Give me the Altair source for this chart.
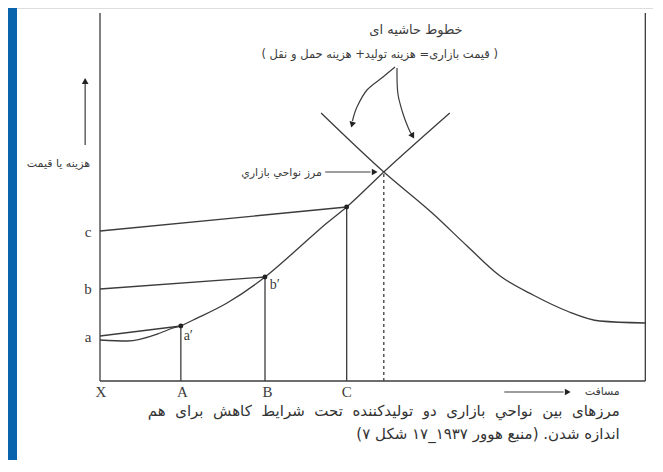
import altair as alt
import pandas as pd

# ---------------- values ----------------
# x: distance units (X=0, A=1, B=2, C=3), y: cost units (x-axis = 0)
a_line_x = [0.0, 0.98]
a_line_y = [1.8, 2.2]
b_line_x = [0.0, 2.0]
b_line_y = [3.68, 4.16]
c_line_x = [0.0, 2.99]
c_line_y = [6.0, 6.96]

low_x = [0.0, 0.33, 0.73, 0.885, 0.98]
low_y = [1.64, 1.6, 1.92, 2.12, 2.2]

rise_x = [0.98, 1.13, 1.54, 2.0, 2.34, 2.75, 2.99, 3.44, 4.24]
rise_y = [2.2, 2.44, 3.12, 4.16, 5.12, 6.32, 6.96, 8.36, 10.72]

fall_x = [2.68, 3.44, 4.04, 4.45, 4.85, 5.25, 5.66, 6.06, 6.61]
fall_y = [10.72, 8.36, 6.68, 5.4, 4.2, 3.44, 2.8, 2.4, 2.32]

drop_x = [0.98, 2.0, 2.99]      # A, B, C verticals
drop_top = [2.2, 4.16, 6.96]
border_x = 3.44
border_y = 8.36
frame_right = 6.61
frame_top = 14.72

pt_labels = ["a", "b", "c"]
pt_label_y = [1.76, 3.68, 5.96]
x_labels = ["X", "A", "B", "C"]
x_label_x = [0.01, 1.0, 2.03, 2.99]
prime_labels = ["a′", "b′"]
prime_x = [1.07, 2.12]
prime_y = [1.8, 3.84]

arrowL_x = [3.576, 3.43, 3.236, 3.115, 3.06]
arrowL_y = [12.56, 12.16, 11.64, 10.96, 10.4]
arrowR_x = [3.6, 3.61, 3.67, 3.74, 3.78]
arrowR_y = [12.52, 11.52, 10.72, 10.1, 9.85]

title1 = "خطوط حاشیه ای"
title2 = "( قیمت بازاری= هزینه تولید+ هزینه حمل و نقل )"
border_label = "مرز نواحي بازاري"
y_title = "هزینه یا قیمت"
x_title = "مسافت"
caption1 = "مرزهای بین نواحي بازاری دو تولیدکننده تحت شرایط کاهش برای هم"
caption2 = "اندازه شدن. (منبع هوور ۱۹۳۷_۱۷ شکل ۷)"

# ---------------- layout ----------------
W, H = 645, 452
XD = [-1.11515, 6.70303]
YD = [-3.16, 14.92]
INK = "#3c3c3c"
BLUE = "#0a64ad"

def rtl(s):
    return "\u202B" + s + "\u202C"

def justify(s):
    # the first caption line is justified in the original: widen the word gaps
    return s.replace(" ", " \u00a0")

xs = alt.Scale(domain=XD, nice=False, zero=False)
ys = alt.Scale(domain=YD, nice=False, zero=False)
X = lambda f="x": alt.X(f, type="quantitative", scale=xs, axis=None)
Y = lambda f="y": alt.Y(f, type="quantitative", scale=ys, axis=None)

layers = []

# blue frame strip at left
layers.append(
    alt.Chart(pd.DataFrame({"x": [XD[0]], "x2": [-1.006], "y": [YD[0]], "y2": [YD[1]]}))
    .mark_rect(color=BLUE)
    .encode(x=X(), x2="x2", y=Y(), y2="y2")
)

# frame lines (axis box)
frame = pd.DataFrame({
    "x": [0.0, frame_right, 0.0],
    "x2": [0.0, frame_right, frame_right],
    "y": [0.0, 0.0, 0.0],
    "y2": [frame_top, frame_top, 0.0],
})
layers.append(alt.Chart(frame).mark_rule(color=INK, strokeWidth=1.3)
              .encode(x=X(), x2="x2", y=Y(), y2="y2"))

def line_layer(xv, yv, interp="linear", width=1.3, dash=None, ordered=False):
    df = pd.DataFrame({"x": xv, "y": yv, "i": list(range(len(xv)))})
    kw = dict(color=INK, strokeWidth=width, interpolate=interp)
    if dash:
        kw["strokeDash"] = dash
    enc = dict(x=X(), y=Y())
    if ordered:
        enc["order"] = alt.Order("i:Q")
    return alt.Chart(df).mark_line(**kw).encode(**enc)

layers.append(line_layer(a_line_x, a_line_y))
layers.append(line_layer(b_line_x, b_line_y))
layers.append(line_layer(c_line_x, c_line_y))
layers.append(line_layer(low_x, low_y, "monotone"))
layers.append(line_layer(rise_x, rise_y, "monotone"))
layers.append(line_layer(fall_x, fall_y, "monotone"))

# vertical drop lines
drops = pd.DataFrame({"x": drop_x, "y": [0.0] * 3, "y2": drop_top})
layers.append(alt.Chart(drops).mark_rule(color=INK, strokeWidth=1.3)
              .encode(x=X(), y=Y(), y2="y2"))
# dashed boundary
layers.append(alt.Chart(pd.DataFrame({"x": [border_x], "y": [0.0], "y2": [border_y]}))
              .mark_rule(color=INK, strokeWidth=1.3, strokeDash=[3, 3])
              .encode(x=X(), y=Y(), y2="y2"))

# dots
dots = pd.DataFrame({"x": drop_x, "y": drop_top})
layers.append(alt.Chart(dots).mark_circle(color="#222", size=24, opacity=1)
              .encode(x=X(), y=Y()))

# curved arrows
layers.append(line_layer(arrowL_x, arrowL_y, "cardinal", 1.2, ordered=True))
layers.append(line_layer(arrowR_x, arrowR_y, "cardinal", 1.2, ordered=True))

# arrow shafts (y-axis arrow, x-axis arrow, border arrow)
shafts = pd.DataFrame({
    "x": [-0.18, 4.9, 2.73],
    "x2": [-0.18, 5.62, 3.28],
    "y": [9.44, -0.44, 8.36],
    "y2": [11.9, -0.44, 8.36],
})
layers.append(alt.Chart(shafts).mark_rule(color=INK, strokeWidth=1.2)
              .encode(x=X(), x2="x2", y=Y(), y2="y2"))

# arrow heads
heads = pd.DataFrame({
    "x": [-0.18, 5.67, 3.33, 3.055, 3.79],
    "y": [12.0, -0.44, 8.36, 10.25, 9.8],
    "ang": [0, 90, 90, 195, 150],
})
layers.append(alt.Chart(heads).mark_point(shape="triangle-up", filled=True, color="#222",
                                          size=45, opacity=1)
              .encode(x=X(), y=Y(), angle=alt.Angle("ang:Q", scale=None)))

def text_layer(xv, yv, texts, size, font, align="center", color=INK):
    df = pd.DataFrame({"x": xv, "y": yv, "t": texts})
    return alt.Chart(df).mark_text(align=align, baseline="middle", font=font,
                                   fontSize=size, color=color).encode(x=X(), y=Y(), text="t:N")

SERIF = "Liberation Serif"
FA = "DejaVu Sans"
# latin labels
layers.append(text_layer([-0.145, -0.145, -0.145], pt_label_y, pt_labels, 15, SERIF))
layers.append(text_layer(x_label_x, [-0.44] * 4, x_labels, 15, SERIF))
layers.append(text_layer(prime_x, prime_y, prime_labels, 14, SERIF))

# persian texts
layers.append(text_layer([3.83], [14.04], [rtl(title1)], 13, FA))
layers.append(text_layer([3.39], [13.04], [rtl(title2)], 11.5, FA))
layers.append(text_layer([2.69], [8.32], [rtl(border_label)], 11, FA, "right"))
layers.append(text_layer([-0.121], [8.68], [rtl(y_title)], 11, FA, "right"))
layers.append(text_layer([6.30], [-0.44], [rtl(x_title)], 11, FA, "right"))
layers.append(text_layer([6.30, 6.30], [-1.2, -2.12],
                         [rtl(justify(caption1)), rtl(caption2)], 15, FA, "right",
                         color="#333"))

chart = (
    alt.layer(*layers)
    .properties(width=W, height=H, autosize=alt.AutoSizeParams(type="none"), padding=0)
    .configure_view(stroke=None)
    .configure(background="white")
)

chart.save("out.html", embed_options={"renderer": "svg", "actions": False})
